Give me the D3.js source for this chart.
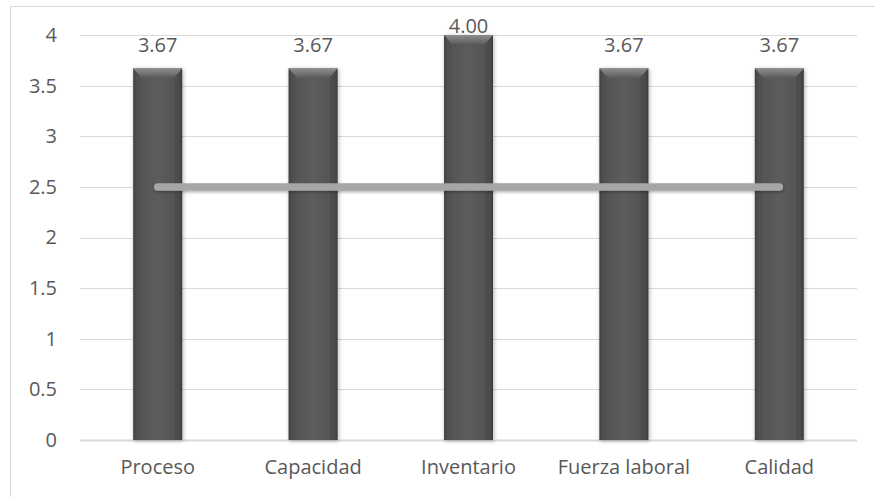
<!DOCTYPE html>
<html>
<head>
<meta charset="utf-8">
<script src="https://cdn.jsdelivr.net/npm/d3@7"></script>
<style>
  html, body { margin: 0; padding: 0; background: #fff; }
  svg { display: block; }
  text { font-family: "Open Sans", "Noto Sans", sans-serif; fill: #595959; }
</style>
</head>
<body>
<script>
// Chart data
const categories = ["Proceso", "Capacidad", "Inventario", "Fuerza laboral", "Calidad"];
const scores = [3.67, 3.67, 4.00, 3.67, 3.67];
const reference = [2.5, 2.5, 2.5, 2.5, 2.5];
const yTicks = [0, 0.5, 1, 1.5, 2, 2.5, 3, 3.5, 4];
const yTickLabels = ["0", "0.5", "1", "1.5", "2", "2.5", "3", "3.5", "4"];

const W = 875, H = 497;
const plot = { left: 80, right: 857, top: 35, bottom: 440 };

const svg = d3.select("body").append("svg")
  .attr("width", W).attr("height", H);

const defs = svg.append("defs");

// Bar body: darker along the edges
const body = defs.append("linearGradient").attr("id", "barBody")
  .attr("x1", "0").attr("x2", "1").attr("y1", "0").attr("y2", "0");
[["0%", "#3c3c3c"], ["7%", "#545454"], ["50%", "#5c5c5c"], ["93%", "#545454"], ["100%", "#3c3c3c"]]
  .forEach(([o, c]) => body.append("stop").attr("offset", o).attr("stop-color", c));

// Top bevel
const bevel = defs.append("linearGradient").attr("id", "barBevel")
  .attr("x1", "0").attr("x2", "0").attr("y1", "0").attr("y2", "1");
[["0%", "#8e8e8e"], ["100%", "#5e5e5e"]]
  .forEach(([o, c]) => bevel.append("stop").attr("offset", o).attr("stop-color", c));

const barShadow = defs.append("filter").attr("id", "barShadow")
  .attr("x", "-30%").attr("y", "-10%").attr("width", "160%").attr("height", "120%");
barShadow.append("feDropShadow").attr("dx", 1).attr("dy", 1)
  .attr("stdDeviation", 2).attr("flood-color", "#000").attr("flood-opacity", 0.3);

// A horizontal path has a zero-height bounding box, so the region is in user space
const lineShadow = defs.append("filter").attr("id", "lineShadow")
  .attr("filterUnits", "userSpaceOnUse")
  .attr("x", 0).attr("y", 0).attr("width", W).attr("height", H);
lineShadow.append("feDropShadow").attr("dx", 0.5).attr("dy", 1.5)
  .attr("stdDeviation", 1.5).attr("flood-color", "#000").attr("flood-opacity", 0.3);

// Chart frame
svg.append("path")
  .attr("d", `M10.5,${H} V6.5 H${W}`)
  .attr("fill", "none").attr("stroke", "#d9d9d9").attr("stroke-width", 1);

// Scales
const x = d3.scaleBand().domain(categories)
  .range([plot.left, plot.right])
  .paddingInner(0.685).paddingOuter(0.3425);
const xPoint = d3.scalePoint().domain(categories)
  .range([plot.left, plot.right]).padding(0.5);
const y = d3.scaleLinear().domain([0, 4]).range([plot.bottom, plot.top]);

// Gridlines
svg.append("g").selectAll("line").data(yTicks).join("line")
  .attr("x1", plot.left).attr("x2", plot.right)
  .attr("y1", d => Math.round(y(d)) + 0.5).attr("y2", d => Math.round(y(d)) + 0.5)
  .attr("stroke", "#d9d9d9")
  .attr("stroke-width", d => d === 0 ? 2 : 1);

// Y axis labels
const yAxis = d3.axisLeft(y).tickValues(yTicks)
  .tickFormat((d, i) => yTickLabels[i]).tickSize(0).tickPadding(23);
const gy = svg.append("g").attr("transform", `translate(${plot.left},0)`).call(yAxis);
gy.select(".domain").remove();
gy.selectAll("text").attr("font-size", 20).attr("fill", "#595959")
  .style("font-family", "'Open Sans', sans-serif");

// X axis labels
const xAxis = d3.axisBottom(x).tickSize(0).tickPadding(20);
const gx = svg.append("g").attr("transform", `translate(0,${plot.bottom})`).call(xAxis);
gx.select(".domain").remove();
gx.selectAll("text").attr("font-size", 20).attr("fill", "#595959")
  .style("font-family", "'Open Sans', sans-serif");

// Bars with bevelled top
const bw = x.bandwidth();
const bars = svg.append("g").selectAll("g").data(categories).join("g")
  .attr("filter", "url(#barShadow)");
bars.append("rect")
  .attr("x", d => x(d)).attr("width", bw)
  .attr("y", (d, i) => y(scores[i]))
  .attr("height", (d, i) => y(0) - y(scores[i]))
  .attr("fill", "url(#barBody)");
bars.append("path")
  .attr("d", (d, i) => {
    const x0 = x(d), x1 = x(d) + bw, t = y(scores[i]), b = 9, s = 8;
    return `M${x0},${t} L${x1},${t} L${x1 - s},${t + b} L${x0 + s},${t + b} Z`;
  })
  .attr("fill", "url(#barBevel)");
bars.append("path")
  .attr("d", (d, i) => {
    const x0 = x(d), t = y(scores[i]), b = 9, s = 8;
    return `M${x0},${t} L${x0 + s},${t + b} L${x0 + s},${y(0)} L${x0},${y(0)} Z`;
  })
  .attr("fill", "#4a4a4a").attr("opacity", 0.35);
bars.append("path")
  .attr("d", (d, i) => {
    const x1 = x(d) + bw, t = y(scores[i]), b = 9, s = 8;
    return `M${x1},${t} L${x1 - s},${t + b} L${x1 - s},${y(0)} L${x1},${y(0)} Z`;
  })
  .attr("fill", "#3e3e3e").attr("opacity", 0.35);

// Reference line
const line = d3.line()
  .x((d, i) => xPoint(categories[i]))
  .y(d => y(d));
svg.append("path")
  .datum(reference)
  .attr("d", line)
  .attr("fill", "none")
  .attr("stroke", "#a6a6a6")
  .attr("stroke-width", 7.5)
  .attr("stroke-linecap", "round")
  .attr("filter", "url(#lineShadow)");

// Value labels above bars (kept inside the plot top)
svg.append("g").selectAll("text").data(categories).join("text")
  .attr("x", d => x(d) + bw / 2)
  .attr("y", (d, i) => Math.max(y(scores[i]) - 16, plot.top - 2))
  .attr("text-anchor", "middle")
  .attr("font-size", 20)
  .text((d, i) => scores[i].toFixed(2));
</script>
</body>
</html>
